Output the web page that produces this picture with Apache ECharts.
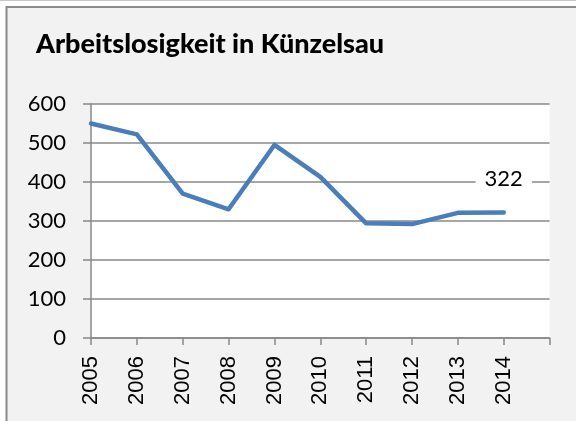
<!DOCTYPE html>
<html>
<head>
<meta charset="utf-8">
<script src="https://cdn.jsdelivr.net/npm/echarts@6/dist/echarts.min.js"></script>
<style>
  html, body { margin: 0; padding: 0; background: #ffffff; }
  #chart { width: 576px; height: 421px; }
</style>
</head>
<body>
<div id="chart"></div>
<script>
// Data
const title = 'Arbeitslosigkeit in Künzelsau';
const years = [2005, 2006, 2007, 2008, 2009, 2010, 2011, 2012, 2013, 2014];
const values = [550, 522, 370, 330, 495, 413, 294, 292, 321, 322];
const yTicks = [0, 100, 200, 300, 400, 500, 600];
const labelledYear = 2014;

const chart = echarts.init(document.getElementById('chart'), null, { renderer: 'canvas' });

const seriesData = years.map((y, i) => {
  const item = { value: [y, values[i]] };
  if (y === labelledYear) {
    item.label = {
      show: true,
      position: 'top',
      distance: 23,
      formatter: '{@[1]}',
      fontFamily: 'Lato',
      fontSize: 22,
      lineHeight: 22,
      color: '#000000',
      backgroundColor: '#ffffff',
      padding: [0, 9]
    };
  }
  return item;
});

const axisGray = '#888888';

const option = {
  backgroundColor: '#ffffff',
  animation: false,
  graphic: {
    elements: [
      { type: 'line', z: -10, silent: true, shape: { x1: 0, y1: 0.5, x2: 576, y2: 0.5 }, style: { stroke: '#c6c6c6', lineWidth: 1 } },
      { type: 'rect', z: -10, silent: true, shape: { x: 6.5, y: 7, width: 700, height: 700 }, style: { fill: '#f2f2f2', stroke: '#8a8a8a', lineWidth: 2 } },
      { type: 'text', z: 10, silent: true, left: 36, top: 31, style: { text: title, font: '900 27px Lato', fill: '#000000' } }
    ]
  },
  grid: {
    left: 91, right: 26.4, top: 104, bottom: 83,
    show: true, backgroundColor: '#ffffff', borderWidth: 0
  },
  xAxis: {
    type: 'value',
    min: 2005, max: 2015, interval: 1,
    axisLine: { show: true, lineStyle: { color: axisGray, width: 1.5 } },
    axisTick: { show: true, length: 7, lineStyle: { color: axisGray, width: 1.5 } },
    splitLine: { show: false },
    axisLabel: {
      rotate: 90, margin: 18,
      fontFamily: 'Liberation Sans', fontSize: 22, color: '#000000',
      formatter: v => (years.indexOf(v) >= 0 ? String(v) : '')
    }
  },
  yAxis: {
    type: 'value',
    min: yTicks[0], max: yTicks[yTicks.length - 1], interval: 100,
    axisLine: { show: true, lineStyle: { color: axisGray, width: 1.5 } },
    axisTick: { show: true, length: 8, lineStyle: { color: axisGray, width: 1.5 } },
    splitLine: { show: true, lineStyle: { color: axisGray, width: 1.5 } },
    axisLabel: { margin: 25, fontFamily: 'Lato', fontSize: 22, color: '#000000' }
  },
  series: [{
    type: 'line',
    data: seriesData,
    showSymbol: true,
    symbol: 'circle',
    symbolSize: 0,
    lineStyle: { color: '#4a7ebb', width: 4.5, join: 'round', cap: 'round' },
    itemStyle: { color: '#4a7ebb' },
    emphasis: { disabled: true },
    z: 5
  }]
};

chart.setOption(option);
</script>
</body>
</html>
